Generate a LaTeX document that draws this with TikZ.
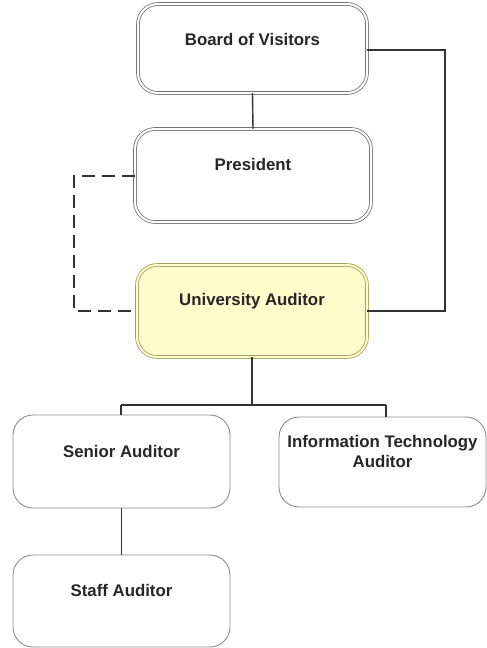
\documentclass[tikz,border=0pt]{standalone}
\usepackage{fontspec}
\setmainfont{Liberation Sans}
\begin{document}
\begin{tikzpicture}[x=1pt,y=-1pt,
  every node/.style={font=\fontsize{16.8}{20}\selectfont\bfseries, inner sep=0pt, outer sep=0pt, text=black!85},
  dbox/.style={rounded corners=20pt, draw=black!55, double=white, double distance=2pt, line width=0.8pt},
  ybox/.style={rounded corners=20pt, draw=black!35!yellow!60!gray, double=yellow!20, fill=yellow!20, double distance=2pt, line width=0.8pt},
  sbox/.style={rounded corners=20pt, draw=black!45, line width=0.9pt, fill=white},
  conn/.style={draw=black!80, line width=1.4pt},
  dconn/.style={draw=black!80, line width=2pt, dash pattern=on 13pt off 7pt}]
\useasboundingbox (0,0) rectangle (487,648);
\node[dbox, minimum width=229pt, text height=41pt, text depth=48pt] (bov) at (252.5,48.5) {Board of Visitors};
\node[dbox, minimum width=236pt, text height=41pt, text depth=52pt] (pres) at (253,175.5) {President};
\node[ybox, minimum width=230pt, text height=40pt, text depth=52pt] (ua) at (252,311) {University Auditor};
\node[sbox, minimum width=217pt, text height=42pt, text depth=51pt] (sen) at (121.5,461.5) {Senior Auditor};
\node[sbox, minimum width=207pt, align=center, text height=50pt, text depth=40pt] (it) at (382.5,462) {Information Technology\\Auditor};
\node[sbox, minimum width=217pt, text height=41pt, text depth=51pt] (staff) at (121.5,601) {Staff Auditor};
\coordinate (rt) at (445,50);
\coordinate (rb) at (445,311);
\coordinate (lt) at (74,176);
\coordinate (lb) at (74,311);
\coordinate (jn) at (252,405);
\coordinate (jl) at (121,405);
\coordinate (jr) at (386,405);
\draw[conn] (bov.south) -- (pres.north);
\draw[conn] (bov.east |- rt) -- (rt) -- (rb) -- (ua.east |- rb);
\draw[dconn] (pres.west |- lt) -- (lt) -- (lb) -- (ua.west |- lb);
\draw[conn] (ua.south) -- (jn);
\draw[conn] (jl) -- (jr);
\draw[conn] (jl) -- (jl |- sen.north);
\draw[conn] (jr) -- (jr |- it.north);
\draw[conn] (sen.south) -- (staff.north);
\end{tikzpicture}
\end{document}
